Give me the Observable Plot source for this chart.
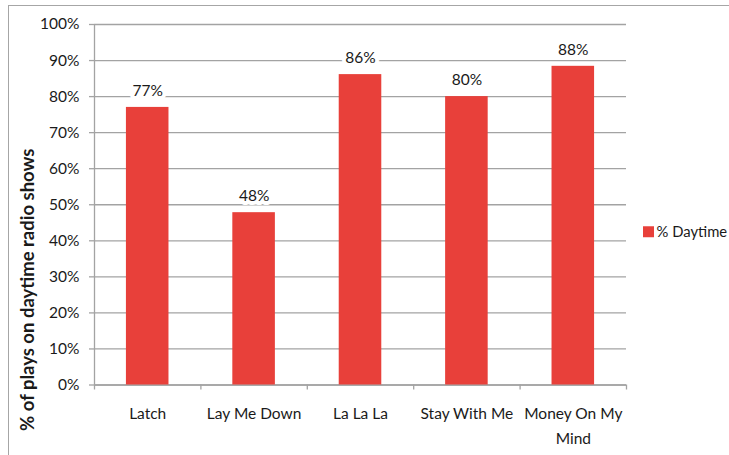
<!DOCTYPE html>
<html>
<head>
<meta charset="utf-8">
<script src="https://cdn.jsdelivr.net/npm/d3@7"></script>
<script src="https://cdn.jsdelivr.net/npm/@observablehq/plot@0.6"></script>
<style>
  html, body { margin: 0; padding: 0; background: #fff; overflow: hidden; width: 729px; height: 455px; }
  #frame { position: absolute; left: 8px; top: 5px; width: 760px; height: 480px; border: 1.5px solid #a6a6a6; box-sizing: border-box; }
  #chart { position: absolute; left: 0; top: 0; }
</style>
</head>
<body>
<div id="frame"></div>
<div id="chart"></div>
<script>
const songs = ["Latch", "Lay Me Down", "La La La", "Stay With Me", "Money On My Mind"];
const songLabels = ["Latch", "Lay Me Down", "La La La", "Stay With Me", "Money On My\nMind"];
const daytimePct = [77.0, 47.8, 86.1, 80.0, 88.4];
const seriesName = "% Daytime";
const seriesColor = "#E8403A";
const yTicks = [0, 10, 20, 30, 40, 50, 60, 70, 80, 90, 100];
const yTitle = "% of plays on daytime radio shows";

const data = songs.map((s, i) => ({song: s, label: songLabels[i], value: daytimePct[i], i}));
const boundaries = d3.range(songs.length + 1);
const gridColor = "#a3a3a3";
const textColor = "#1a1a1a";
const font = "Lato, 'Liberation Sans', sans-serif";
const fs = 15.5;

const chart = Plot.plot({
  width: 729,
  height: 455,
  marginLeft: 94,
  marginRight: 103,
  marginTop: 24,
  marginBottom: 70.5,
  x: {domain: [0, songs.length], axis: null},
  y: {domain: [0, 100], axis: null},
  style: {fontFamily: font, fontSize: fs + "px", color: textColor, background: "transparent"},
  marks: [
    Plot.gridY(yTicks, {stroke: gridColor, strokeOpacity: 1, strokeWidth: 1.3}),
    Plot.axisY(yTicks, {tickSize: 5, tickPadding: 10, stroke: gridColor, strokeOpacity: 1, strokeWidth: 1.3,
      tickFormat: d => d + "%", fontSize: fs, fill: textColor, label: null}),
    Plot.ruleX([0], {y1: 0, y2: 100, stroke: gridColor, strokeWidth: 1.3}),
    Plot.axisX(boundaries, {tickSize: 5, stroke: gridColor, strokeOpacity: 1, strokeWidth: 1.3, tickFormat: () => "", label: null}),
    Plot.ruleY([0], {stroke: gridColor, strokeWidth: 1.3}),
    Plot.rectY(data, {x1: d => d.i + 0.3, x2: d => d.i + 0.7, y: "value", fill: seriesColor}),
    Plot.text(data, {x: d => d.i + 0.5, y: "value", text: d => Math.round(d.value) + "%", dy: -16.5,
      fill: textColor, stroke: "white", strokeWidth: 8, fontSize: fs}),
    Plot.text(data, {x: d => d.i + 0.5, y: 0, text: "label", lineAnchor: "top", dy: 16.5, lineHeight: 1.62,
      fill: textColor, fontSize: fs}),
    Plot.text([yTitle], {frameAnchor: "left", textAnchor: "middle", dx: -66, dy: 85, rotate: -90, fontWeight: "bold",
      fontSize: 18.5, fill: textColor}),
    Plot.dot([seriesName], {frameAnchor: "right", dx: 22, dy: 27, symbol: "square", r: 6.2, fill: seriesColor}),
    Plot.text([seriesName], {frameAnchor: "right", dx: 30, dy: 27, textAnchor: "start", fill: textColor, fontSize: 14.8})
  ]
});
document.getElementById("chart").appendChild(chart);
</script>
</body>
</html>
